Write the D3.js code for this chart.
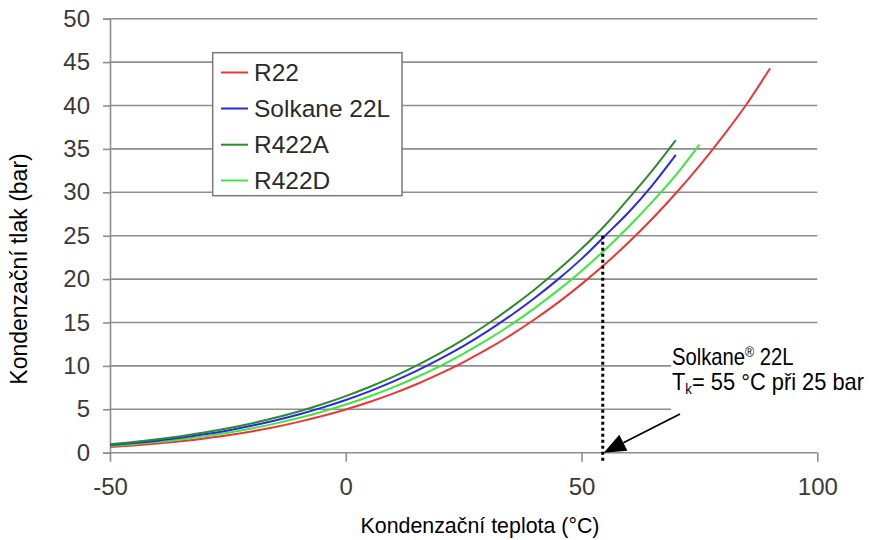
<!DOCTYPE html>
<html>
<head>
<meta charset="utf-8">
<script src="https://cdn.jsdelivr.net/npm/d3@7/dist/d3.min.js"></script>
<style>
  html, body { margin: 0; padding: 0; background: #fff; }
  svg { display: block; font-family: "Liberation Sans", Arial, sans-serif; }
</style>
</head>
<body>
<svg id="chart" width="869" height="540"></svg>
<script>
// ---------- data ----------
const temps = [-50,-45,-40,-35,-30,-25,-20,-15,-10,-5,0,5,10,15,20,25,30,35,40,45,50,55,60,65,70,75,80,85,90];
const r22 = [0.65,0.83,1.05,1.31,1.64,2.01,2.45,2.96,3.55,4.22,4.98,5.84,6.81,7.89,9.10,10.44,11.92,13.55,15.34,17.29,19.42,21.73,24.24,26.96,29.89,33.05,36.47,40.15,44.3];
const solkane22L = [0.88,1.11,1.39,1.73,2.12,2.57,3.10,3.71,4.40,5.19,6.07,7.07,8.18,9.42,10.80,12.31,13.98,15.81,17.80,19.97,22.33,25.0,27.7,30.8,34.3];
const r422A = [0.98,1.23,1.54,1.90,2.32,2.81,3.37,4.02,4.75,5.58,6.52,7.57,8.74,10.04,11.48,13.06,14.80,16.71,18.78,21.04,23.49,26.2,29.3,32.5,36.0];
const r422D = [0.77,0.97,1.22,1.53,1.88,2.30,2.79,3.35,3.99,4.72,5.55,6.48,7.52,8.69,9.98,11.42,12.99,14.73,16.63,18.70,20.94,23.39,26.04,28.89,31.98,35.5];

const seriesNames = ["R22", "Solkane 22L", "R422A", "R422D"];
const seriesColors = ["#ee3535", "#2a2ae0", "#2e8a2e", "#3ee83e"];
const seriesValues = [r22, solkane22L, r422A, r422D];
const drawOrder = [0, 3, 1, 2];

const xTicks = [-50, 0, 50, 100];
const yTicks = [0, 5, 10, 15, 20, 25, 30, 35, 40, 45, 50];

const xTitle = "Kondenzační teplota (°C)";
const yTitle = "Kondenzační tlak (bar)";
const markerT = 54.5;   // dotted line position (°C)
const markerP = 25;     // bar

// ---------- layout ----------
const svg = d3.select("#chart");
const x = d3.scaleLinear().domain([-50, 100]).range([110, 817.3]);
const y = d3.scaleLinear().domain([0, 50]).range([452.7, 18.7]);
const gridColor = "#8e8e8e";

// grid lines
svg.append("g").selectAll("line")
  .data(yTicks.filter(d => d > 0))
  .join("line")
  .attr("x1", x(-50)).attr("x2", x(100))
  .attr("y1", d => y(d)).attr("y2", d => y(d))
  .attr("stroke", gridColor).attr("stroke-width", 1.6);

// y axis
const yAxis = svg.append("g").attr("transform", `translate(${x(-50)},0)`)
  .call(d3.axisLeft(y).tickValues(yTicks).tickSize(7).tickPadding(13).tickFormat(d => String(d)));
yAxis.select(".domain").attr("stroke", gridColor).attr("stroke-width", 1.6);
yAxis.selectAll(".tick line").attr("stroke", gridColor).attr("stroke-width", 1.6);
yAxis.selectAll(".tick text").attr("font-size", 24).attr("fill", "#3a3a3a")
  .attr("font-family", "'Liberation Sans', Arial, sans-serif");

// x axis
const xAxis = svg.append("g").attr("transform", `translate(0,${y(0)})`)
  .call(d3.axisBottom(x).tickValues(xTicks).tickSize(9).tickPadding(16).tickFormat(d => String(d)));
xAxis.select(".domain").attr("stroke", gridColor).attr("stroke-width", 1.6)
  .attr("d", `M${x(-50)},0H${x(100)}`);
xAxis.selectAll(".tick line").attr("stroke", gridColor).attr("stroke-width", 1.6);
xAxis.selectAll(".tick text").attr("font-size", 24).attr("fill", "#3a3a3a")
  .attr("font-family", "'Liberation Sans', Arial, sans-serif");

// annotation white backing box (covers gridlines)
svg.append("rect").attr("x", 671).attr("y", 334).attr("width", 198).attr("height", 82).attr("fill", "#fff");

// curves
const line = d3.line().x(d => x(d[0])).y(d => y(d[1])).curve(d3.curveMonotoneX);
drawOrder.forEach(i => {
  const vals = seriesValues[i];
  const pts = vals.map((v, k) => [temps[k], v]);
  svg.append("path").datum(pts)
    .attr("d", line).attr("fill", "none")
    .attr("stroke", seriesColors[i]).attr("stroke-width", 2);
});

// dotted marker line
svg.append("line")
  .attr("x1", x(markerT)).attr("x2", x(markerT))
  .attr("y1", y(markerP)).attr("y2", y(0) + 8)
  .attr("stroke", "#000").attr("stroke-width", 3).attr("stroke-dasharray", "3,3");

// arrow
const tip = [x(markerT) + 1, y(0)];
const start = [680, 414];
const ang = Math.atan2(start[1] - tip[1], start[0] - tip[0]);
const hl = 22, hw = 9;
const bx = tip[0] + hl * Math.cos(ang), by = tip[1] + hl * Math.sin(ang);
svg.append("line").attr("x1", start[0]).attr("y1", start[1]).attr("x2", bx).attr("y2", by)
  .attr("stroke", "#000").attr("stroke-width", 1.8);
svg.append("path")
  .attr("d", `M${tip[0]},${tip[1]}L${bx + hw * Math.sin(ang)},${by - hw * Math.cos(ang)}L${bx - hw * Math.sin(ang)},${by + hw * Math.cos(ang)}Z`)
  .attr("fill", "#000");

// annotation text (narrow face simulated with horizontal scale)
const t1 = svg.append("text").attr("transform", "translate(672,365) scale(0.88,1)")
  .attr("font-size", 23).attr("fill", "#000");
t1.append("tspan").text("Solkane");
t1.append("tspan").attr("font-size", 14).attr("dy", -8).text("®");
t1.append("tspan").attr("dy", 8).text(" 22L");
const t2 = svg.append("text").attr("transform", "translate(672,390) scale(0.95,1)")
  .attr("font-size", 23).attr("fill", "#000");
t2.append("tspan").text("T");
t2.append("tspan").attr("font-size", 14).attr("dy", 4).text("k");
t2.append("tspan").attr("dy", -4).text("= 55 °C při 25 bar");

// axis titles
svg.append("text").attr("transform", "translate(480,533) scale(0.93,1)").attr("text-anchor", "middle")
  .attr("font-size", 23).text(xTitle);
svg.append("text").attr("transform", "translate(27,269) rotate(-90)").attr("text-anchor", "middle")
  .attr("font-size", 23).text(yTitle);

// legend
const lg = svg.append("g");
lg.append("rect").attr("x", 212.7).attr("y", 52.7).attr("width", 189.3).attr("height", 143)
  .attr("fill", "#fff").attr("stroke", "#7a7a7a").attr("stroke-width", 1.5);
const rowY = [72.5, 108.5, 144.7, 180.5];
seriesNames.forEach((name, i) => {
  lg.append("line").attr("x1", 221).attr("x2", 248).attr("y1", rowY[i]).attr("y2", rowY[i])
    .attr("stroke", seriesColors[i]).attr("stroke-width", 2);
  lg.append("text").attr("x", 254).attr("y", rowY[i]).attr("dy", "0.35em")
    .attr("font-size", 24.5).attr("fill", "#2a2a2a").text(name);
});
</script>
</body>
</html>
